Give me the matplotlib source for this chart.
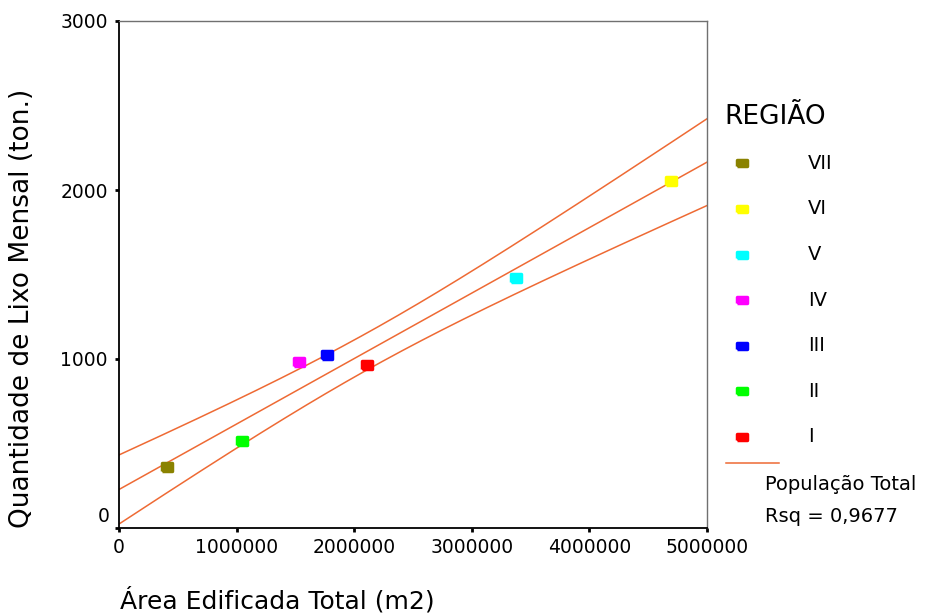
import numpy as np
import matplotlib
matplotlib.use("Agg")
import matplotlib.pyplot as plt
from matplotlib.lines import Line2D
from matplotlib.markers import MarkerStyle

plt.rcParams['font.family'] = ['DejaVu Sans']

# ---- data ----
regions = ["VII", "VI", "V", "IV", "III", "II", "I"]
area_m2 = [409000, 4696000, 3372000, 1527000, 1767000, 1047000, 2105000]
lixo_ton = [358, 2056, 1481, 982, 1023, 513, 963]
colors = ["#8a8200", "#ffff00", "#00ffff", "#ff00ff", "#0000ff", "#00ff00", "#ff0000"]
x_ticks = [0, 1000000, 2000000, 3000000, 4000000, 5000000]
y_ticks = [0, 1000, 2000, 3000]
line_color = "#ee6a34"
rsq_text = "Rsq = 0,9677"
fit_label = "População Total"
legend_title = "REGIÃO"
x_label = "Área Edificada Total (m2)"
y_label = "Quantidade de Lixo Mensal (ton.)"
t_crit = 2.5706  # t(0.975, df=5)

W, H = 925, 613
fig = plt.figure(figsize=(W / 100, H / 100), dpi=100)

def fx(px):
    return px / W

def fy(py):
    return 1 - py / H

ax = fig.add_axes([fx(119), fy(528), fx(707) - fx(119), fy(21) - fy(528)])
ax.set_xlim(0, 5000000)
ax.set_ylim(0, 3000)

# regression with 95% mean confidence bands
x = np.array(area_m2, dtype=float)
y = np.array(lixo_ton, dtype=float)
n = len(x)
b1, b0 = np.polyfit(x, y, 1)
resid = y - (b0 + b1 * x)
s = np.sqrt(np.sum(resid ** 2) / (n - 2))
sxx = np.sum((x - x.mean()) ** 2)
xs = np.linspace(0, 5000000, 300)
yfit = b0 + b1 * xs
hw = t_crit * s * np.sqrt(1 / n + (xs - x.mean()) ** 2 / sxx)
for yy in (yfit, yfit + hw, yfit - hw):
    ax.plot(xs, yy, color=line_color, lw=1.1, zorder=2)

marker_shape = [(-1, -0.72), (1, -0.72), (1, 0.72), (-1, 0.72), (-1, -0.72)]
mstyle = MarkerStyle(marker_shape, joinstyle='round')
for xi, yi, c in zip(area_m2, lixo_ton, colors):
    ax.plot([xi], [yi], linestyle='none', marker=mstyle, markersize=7.5,
            markerfacecolor=c, markeredgecolor=c, markeredgewidth=2.5, zorder=3)

# axes styling
ax.spines['left'].set_color('black')
ax.spines['bottom'].set_color('black')
ax.spines['left'].set_linewidth(1.3)
ax.spines['bottom'].set_linewidth(1.3)
ax.spines['top'].set_color('#707070')
ax.spines['right'].set_color('#707070')
ax.spines['top'].set_linewidth(1.0)
ax.spines['right'].set_linewidth(1.0)

ax.set_xticks(x_ticks)
ax.set_xticklabels([str(v) for v in x_ticks])
ax.set_yticks(y_ticks)
ax.set_yticklabels(['' if v == 0 else str(v) for v in y_ticks])
ax.tick_params(axis='both', direction='out', length=3, width=2, color='black',
               labelsize=13.5)
ax.tick_params(axis='x', pad=4)
ax.tick_params(axis='y', pad=5)
# zero label on y is raised slightly (as in original)
ax.annotate(str(y_ticks[0]), xy=(0, y_ticks[0]), xycoords=('axes fraction', 'data'),
            xytext=(-7, 8), textcoords='offset points', ha='right', va='center',
            fontsize=13.5)

fig.text(fx(120), fy(600), x_label, ha='left', va='center', fontsize=18)
fig.text(fx(22), fy(528), y_label, ha='center', va='bottom', rotation=90, fontsize=19)

# legend (drawn in figure pixel space)
lax = fig.add_axes([0, 0, 1, 1])
lax.set_xlim(0, W)
lax.set_ylim(H, 0)
lax.axis('off')
lax.text(724, 117, legend_title, ha='left', va='center', fontsize=19)
row0, step = 163.3, 45.6
leg_marker = MarkerStyle([(-1, -0.65), (1, -0.65), (1, 0.65), (-1, 0.65), (-1, -0.65)],
                         joinstyle='round')
for i, (lab, c) in enumerate(zip(regions, colors)):
    yy = row0 + i * step
    lax.plot([742], [yy], linestyle='none', marker=leg_marker, markersize=7.5,
             markerfacecolor=c, markeredgecolor=c, markeredgewidth=2.5)
    lax.text(808, yy, lab, ha='left', va='center', fontsize=14)
lax.add_line(Line2D([726, 779], [462.7, 462.7], color=line_color, lw=1.1))
lax.text(765, 485, fit_label, ha='left', va='center', fontsize=14)
lax.text(765, 517, rsq_text, ha='left', va='center', fontsize=14)

fig.savefig('out.png', dpi=100)
